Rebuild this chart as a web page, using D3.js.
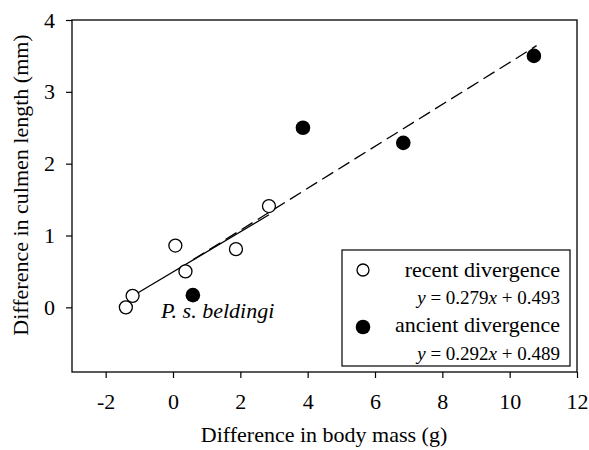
<!DOCTYPE html>
<html>
<head>
<meta charset="utf-8">
<script src="https://cdn.jsdelivr.net/npm/d3@7"></script>
</head>
<body style="margin:0;padding:0;background:#fff">
<svg id="chart" width="589" height="450" style="display:block"></svg>
<script>
// ---- data ----
const recentX = [-1.40, -1.20, 0.07, 0.37, 1.87, 2.85];
const recentY = [0.00, 0.16, 0.86, 0.50, 0.81, 1.41];
const ancientX = [0.59, 3.86, 6.84, 10.72];
const ancientY = [0.17, 2.50, 2.29, 3.50];
const recentFit = [0.279, 0.493];   // slope, intercept
const ancientFit = [0.292, 0.489];
const recentFitRange = [-1.2, 2.85];
const ancientFitRange = [0.6, 10.8];
const xTicks = [-2, 0, 2, 4, 6, 8, 10, 12];
const yTicks = [0, 1, 2, 3, 4];
const xDomain = [-3, 12];
const yDomain = [-0.9, 4];
const legendLabels = ["recent divergence", "ancient divergence"];
const annotation = "P. s. beldingi";

// ---- layout ----
const FONT = "Liberation Serif";
const svg = d3.select("#chart");
const L = 72, R = 577, T = 20, B = 372;
const x = d3.scaleLinear().domain(xDomain).range([L, R]);
const y = d3.scaleLinear().domain(yDomain).range([B, T]);
const FS = 22;

function txt(sel, size) {
  return sel.style("font-family", FONT).style("font-size", size + "px").style("fill", "#000");
}

// frame
svg.append("rect").attr("x", L).attr("y", T).attr("width", R - L).attr("height", B - T)
  .attr("fill", "none").attr("stroke", "#000").attr("stroke-width", 1.3);

// axes
const xAxis = svg.append("g").attr("transform", `translate(0,${B})`)
  .call(d3.axisBottom(x).tickValues(xTicks).tickSize(6).tickSizeOuter(0).tickPadding(15).tickFormat(d => d < 0 ? "-" + Math.abs(d) : String(d)));
const yAxis = svg.append("g").attr("transform", `translate(${L},0)`)
  .call(d3.axisLeft(y).tickValues(yTicks).tickSize(6).tickSizeOuter(0).tickPadding(11).tickFormat(d => String(d)));
[xAxis, yAxis].forEach(g => {
  g.select(".domain").remove();
  g.selectAll("line").attr("stroke", "#000").attr("stroke-width", 1.2);
  txt(g.selectAll("text"), FS);
});

// axis titles
txt(svg.append("text").attr("x", 324).attr("y", 442).attr("text-anchor", "middle"), FS)
  .text("Difference in body mass (g)");
txt(svg.append("text").attr("transform", "translate(28,185) rotate(-90)").attr("text-anchor", "middle"), FS)
  .text("Difference in culmen length (mm)");

// regression lines
const fitLine = (fit, range) => range.map(v => [x(v), y(fit[0] * v + fit[1])]);
svg.append("path").attr("d", d3.line()(fitLine(recentFit, recentFitRange)))
  .attr("fill", "none").attr("stroke", "#000").attr("stroke-width", 1.3);
svg.append("path").attr("d", d3.line()(fitLine(ancientFit, ancientFitRange)))
  .attr("fill", "none").attr("stroke", "#000").attr("stroke-width", 1.3)
  .attr("stroke-dasharray", "13,6");

// points
svg.append("g").selectAll("circle").data(recentX.map((v, i) => [v, recentY[i]])).join("circle")
  .attr("cx", d => x(d[0])).attr("cy", d => y(d[1])).attr("r", 6.5)
  .attr("fill", "#fff").attr("stroke", "#000").attr("stroke-width", 1.3);
svg.append("g").selectAll("circle").data(ancientX.map((v, i) => [v, ancientY[i]])).join("circle")
  .attr("cx", d => x(d[0])).attr("cy", d => y(d[1])).attr("r", 7.3)
  .attr("fill", "#000");

// annotation
txt(svg.append("text").attr("x", 161).attr("y", 318).style("font-style", "italic"), FS)
  .text(annotation);

// legend
const lg = svg.append("g");
lg.append("rect").attr("x", 342).attr("y", 250).attr("width", 228).attr("height", 116)
  .attr("fill", "#fff").attr("stroke", "#000").attr("stroke-width", 1.2);
lg.append("circle").attr("cx", 363).attr("cy", 270).attr("r", 6).attr("fill", "#fff")
  .attr("stroke", "#000").attr("stroke-width", 1.3);
lg.append("circle").attr("cx", 363).attr("cy", 327).attr("r", 7.3).attr("fill", "#000");
txt(lg.append("text").attr("x", 560).attr("y", 277).attr("text-anchor", "end"), FS).text(legendLabels[0]);
txt(lg.append("text").attr("x", 560).attr("y", 332).attr("text-anchor", "end"), FS).text(legendLabels[1]);

function eq(ypos, fit) {
  const t = txt(lg.append("text").attr("x", 560).attr("y", ypos).attr("text-anchor", "end"), 19);
  t.append("tspan").style("font-style", "italic").text("y");
  t.append("tspan").text(" = " + fit[0].toFixed(3));
  t.append("tspan").style("font-style", "italic").text("x");
  t.append("tspan").text(" + " + fit[1].toFixed(3));
}
eq(304, recentFit);
eq(360, ancientFit);
</script>
</body>
</html>
